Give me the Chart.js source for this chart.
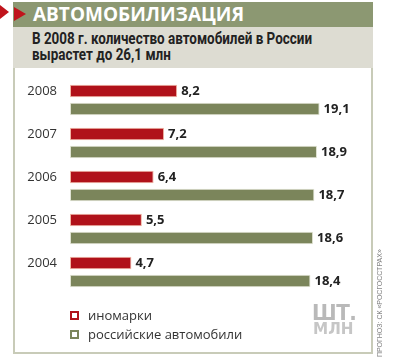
<!DOCTYPE html>
<html>
<head>
<meta charset="utf-8">
<script src="https://cdn.jsdelivr.net/npm/chart.js@4/dist/chart.umd.min.js"></script>
<style>
  html, body { margin: 0; padding: 0; background: #fff; }
  #wrap { position: relative; width: 395px; height: 359px; overflow: hidden; font-family: "Open Sans", "Liberation Sans", sans-serif; }
  .abs { position: absolute; }
  #titlebar { left: 13px; top: 2px; width: 360px; height: 25px; background: #8c9872; }
  #title { left: 33px; top: 2px; height: 25px; line-height: 25px; color: #fff; font-weight: 700; font-size: 19px; letter-spacing: 0px; font-family: "Open Sans", sans-serif; white-space: nowrap; }
  #subbg { left: 13px; top: 27px; width: 360px; height: 41px; background: #dddcd2; }
  #subtitle { left: 32px; top: 31px; color: #222; font-weight: 700; font-size: 16px; line-height: 16px; font-family: Roboto, sans-serif; white-space: nowrap; transform-origin: 0 0; }
  #box { left: 13px; top: 68px; width: 356px; height: 284px; border: 2px solid #c8cbb8; border-top: none; }
  #arrow1 { left: 0; top: 5px; width: 0; height: 0; border-top: 7.5px solid transparent; border-bottom: 7.5px solid transparent; border-left: 9px solid #c0141c; }
  #arrow2 { left: 14px; top: 6.5px; width: 0; height: 0; border-top: 7px solid transparent; border-bottom: 7px solid transparent; border-left: 12px solid #c0141c; }
  canvas { position: absolute; left: 0; top: 0; }
  .lgbox { width: 5px; height: 5px; border: 2px solid; background: #fff; }
  .lgtxt { font-size: 13px; color: #333; line-height: 14px; }
  #logo1 { left: 312px; top: 303px; font-size: 21px; font-weight: 900; color: #b9b9b9; font-family: "DejaVu Sans", sans-serif; line-height: 21px; letter-spacing: -0.5px; transform: scaleX(0.95); transform-origin: 0 0; }
  #logo2 { left: 313px; top: 321px; font-size: 16px; font-weight: 900; color: #c6c6c6; font-family: "DejaVu Sans", sans-serif; line-height: 16px; transform: scaleX(0.95); transform-origin: 0 0; }
  #src { left: 376px; top: 357px; transform: rotate(-90deg); transform-origin: 0 0; font-size: 7px; color: #777; white-space: nowrap; font-family: "Liberation Sans", sans-serif; }
</style>
</head>
<body>
<div id="wrap">
  <div class="abs" id="titlebar"></div>
  <div class="abs" id="arrow1"></div>
  <div class="abs" id="arrow2"></div>
  <div class="abs" id="title">АВТОМОБИЛИЗАЦИЯ</div>
  <div class="abs" id="subbg"></div>
  <div class="abs" id="subtitle"><span id="l1">В 2008 г. количество автомобилей в России</span><br><span>вырастет до 26,1 млн</span></div>
  <div class="abs" id="box"></div>
  <canvas id="c" width="395" height="359"></canvas>
  <div class="abs lgbox" style="left:70px;top:311px;border-color:#b0121a"></div>
  <div class="abs lgtxt" style="left:88px;top:308px">иномарки</div>
  <div class="abs lgbox" style="left:70px;top:330px;border-color:#7b855b"></div>
  <div class="abs lgtxt" style="left:88px;top:327px">российские автомобили</div>
  <div class="abs" id="logo1">ШТ.</div>
  <div class="abs" id="logo2">МЛН</div>
  <div class="abs" id="src">ПРОГНОЗ: СК «РОСГОССТРАХ»</div>
</div>
<script>
const years = ['2008', '2007', '2006', '2005', '2004'];
const foreignCars = [8.2, 7.2, 6.4, 5.5, 4.7];
const russianCars = [19.1, 18.9, 18.7, 18.6, 18.4];
const seriesNames = ['иномарки', 'российские автомобили'];

// fit subtitle first line to the reference width
(function () {
  const w = document.getElementById('l1').getBoundingClientRect().width;
  document.getElementById('subtitle').style.transform = 'scaleX(' + (280 / w) + ')';
})();

const labelPlugin = {
  id: 'labels',
  afterDatasetsDraw(chart) {
    const ctx = chart.ctx;
    ctx.save();
    ctx.textBaseline = 'middle';
    chart.data.datasets.forEach((ds, di) => {
      const meta = chart.getDatasetMeta(di);
      meta.data.forEach((el, i) => {
        ctx.font = 'bold 13px "Open Sans", sans-serif';
        ctx.fillStyle = '#222';
        ctx.textAlign = 'left';
        ctx.fillText(String(ds.data[i]).replace('.', ','), el.x + 4, el.y + 0.5);
        if (di === 0) {
          ctx.font = '13px "Open Sans", sans-serif';
          ctx.fillStyle = '#333';
          ctx.textAlign = 'right';
          ctx.fillText(chart.data.labels[i], 57, el.y + 0.5);
        }
      });
    });
    ctx.restore();
  }
};

new Chart(document.getElementById('c'), {
  type: 'bar',
  data: {
    labels: years,
    datasets: [
      { label: seriesNames[0], data: foreignCars, backgroundColor: '#b0121a', borderColor: '#f0b7a4', borderWidth: 1, borderSkipped: false },
      { label: seriesNames[1], data: russianCars, backgroundColor: '#7b855b', borderColor: '#dfe2d2', borderWidth: 1, borderSkipped: false }
    ]
  },
  options: {
    indexAxis: 'y',
    responsive: false,
    animation: false,
    layout: { padding: { left: 70, right: 37.5, top: 78.5, bottom: 65.5 } },
    datasets: { bar: { categoryPercentage: 0.8372, barPercentage: 0.7 } },
    scales: {
      x: { display: false, min: 0, max: 22 },
      y: { display: false }
    },
    plugins: { legend: { display: false }, tooltip: { enabled: false } }
  },
  plugins: [labelPlugin]
});
</script>
</body>
</html>
